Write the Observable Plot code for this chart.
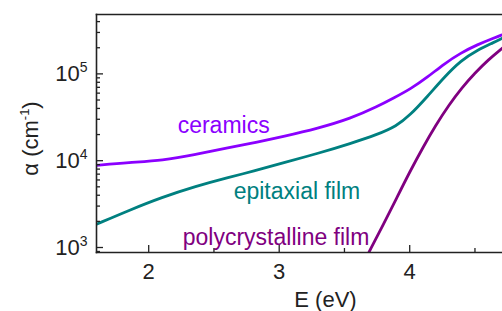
<!DOCTYPE html>
<html><head><meta charset="utf-8">
<script src="https://cdn.jsdelivr.net/npm/d3@7"></script>
<script src="https://cdn.jsdelivr.net/npm/@observablehq/plot@0.6"></script>
<style>html,body{margin:0;padding:0;background:#fff;overflow:hidden}svg{display:block}</style>
</head><body><div id="chart"></div>
<script>
// Series data (energy in eV, absorption coefficient in cm^-1)
const ceramicsE = [1.60, 1.847, 2.107, 2.36, 2.613, 2.82, 3.034, 3.295, 3.548, 3.753, 3.88, 4.008, 4.136, 4.263, 4.391, 4.519, 4.646, 4.713];
const ceramicsA = [8830, 9550, 10070, 11800, 14200, 16230, 19000, 23500, 30600, 42100, 53000, 67300, 91500, 130400, 174300, 217200, 259500, 283300];

const epitaxialE = [1.60, 1.85, 2.10, 2.36, 2.61, 2.80, 3.03, 3.30, 3.55, 3.75, 3.90, 4.00, 4.136, 4.263, 4.391, 4.519, 4.646, 4.713];
const epitaxialA = [1854, 2685, 3784, 5070, 6427, 7534, 9441, 12160, 15850, 19950, 25120, 33110, 54950, 91200, 142200, 188800, 230700, 259400];

const polyE = [3.67, 3.688, 3.80, 3.90, 4.00, 4.10, 4.20, 4.30, 4.40, 4.50, 4.60, 4.713];
const polyA = [776, 889, 1862, 3715, 7413, 14125, 25700, 43650, 69180, 102300, 144500, 199500];

const seriesNames = ["ceramics", "epitaxial film", "polycrystalline film"];
const seriesColors = ["#8b00ff", "#008080", "#800080"];
// label anchor positions (data units)
const labelE = [2.222, 2.651, 2.261];
const labelA = [25400, 4400, 1300];

const xTicks = [2, 3, 4];
const xMinorTicks = [2.5, 3.5, 4.5];
const yTicks = [1e3, 1e4, 1e5];
const yMinorTicks = [900, 2000, 3000, 4000, 5000, 6000, 7000, 8000, 9000,
  20000, 30000, 40000, 50000, 60000, 70000, 80000, 90000, 200000, 300000, 400000];
const xTitle = ["E (eV)"];
const yTitle = ["α (cm-1)"];

const toRows = (E, A, name) => E.map((e, i) => ({E: e, A: A[i], name}));
const rows = [
  ...toRows(ceramicsE, ceramicsA, seriesNames[0]),
  ...toRows(epitaxialE, epitaxialA, seriesNames[1]),
  ...toRows(polyE, polyA, seriesNames[2])
];
const labels = seriesNames.map((n, i) => ({name: n, E: labelE[i], A: labelA[i]}));

const font = "Liberation Sans, Arial, Helvetica, sans-serif";
const axisColor = "#222";

const chart = Plot.plot({
  width: 502,
  height: 311,
  marginLeft: 96,
  marginRight: 0,
  marginTop: 14,
  marginBottom: 59,
  style: {fontFamily: font, fontSize: "22px", color: "#222", background: "#fff"},
  x: {domain: [1.6, 4.711]},
  y: {type: "log", domain: [876, 483000]},
  color: {domain: seriesNames, range: seriesColors},
  marks: [
    Plot.line(rows, {x: "E", y: "A", z: "name", stroke: "name", strokeWidth: 2.8, curve: "basis", clip: true}),
    Plot.text(labels, {x: "E", y: "A", text: "name", fill: "name", textAnchor: "start", lineAnchor: "middle", fontSize: 23}),
    Plot.frame({anchor: "left", stroke: axisColor, strokeWidth: 1.6}),
    Plot.frame({anchor: "bottom", stroke: axisColor, strokeWidth: 1.6}),
    Plot.frame({anchor: "top", stroke: axisColor, strokeWidth: 1.6}),
    Plot.axisX({ticks: xTicks, tickSize: -7, tickPadding: 18, tickFormat: d => String(d), label: null, stroke: axisColor, strokeWidth: 1.3, fontSize: 22}),
    Plot.axisX({ticks: xMinorTicks, tickSize: -4, tickFormat: () => "", label: null, stroke: axisColor, strokeWidth: 1.3}),
    Plot.axisY({ticks: yTicks, tickSize: -7, tickPadding: 16, tickFormat: d => "10^" + Math.round(Math.log10(d)), label: null, stroke: axisColor, strokeWidth: 1.3, fontSize: 22}),
    Plot.axisY({ticks: yMinorTicks, tickSize: -4, tickFormat: () => "", label: null, stroke: axisColor, strokeWidth: 1.3}),
    Plot.text(xTitle, {frameAnchor: "bottom", dx: 26, dy: 47, text: d => d, fontSize: 22, fill: "#222", textAnchor: "middle", lineAnchor: "middle"}),
    Plot.text(yTitle, {frameAnchor: "left", dx: -66, dy: 5, rotate: -90, text: d => d, fontSize: 22, fill: "#222", textAnchor: "middle", lineAnchor: "middle"})
  ]
});

// superscripts
const NS = "http://www.w3.org/2000/svg";
chart.querySelectorAll("text").forEach(t => {
  const s = t.textContent;
  let m = s.match(/^10\^(\-?\d+)$/);
  if (m) {
    t.textContent = "";
    t.appendChild(document.createTextNode("10"));
    const sup = document.createElementNS(NS, "tspan");
    sup.setAttribute("dy", "-9");
    sup.setAttribute("font-size", "14");
    sup.textContent = m[1];
    t.appendChild(sup);
    return;
  }
  m = s.match(/^(.*\(cm)(-1)(\))$/);
  if (m) {
    t.textContent = "";
    t.appendChild(document.createTextNode(m[1]));
    const sup = document.createElementNS(NS, "tspan");
    sup.setAttribute("dy", "-9");
    sup.setAttribute("font-size", "13");
    sup.textContent = m[2];
    t.appendChild(sup);
    const close = document.createElementNS(NS, "tspan");
    close.setAttribute("dy", "9");
    close.textContent = m[3];
    t.appendChild(close);
  }
});
document.getElementById("chart").appendChild(chart);
</script>
</body></html>
